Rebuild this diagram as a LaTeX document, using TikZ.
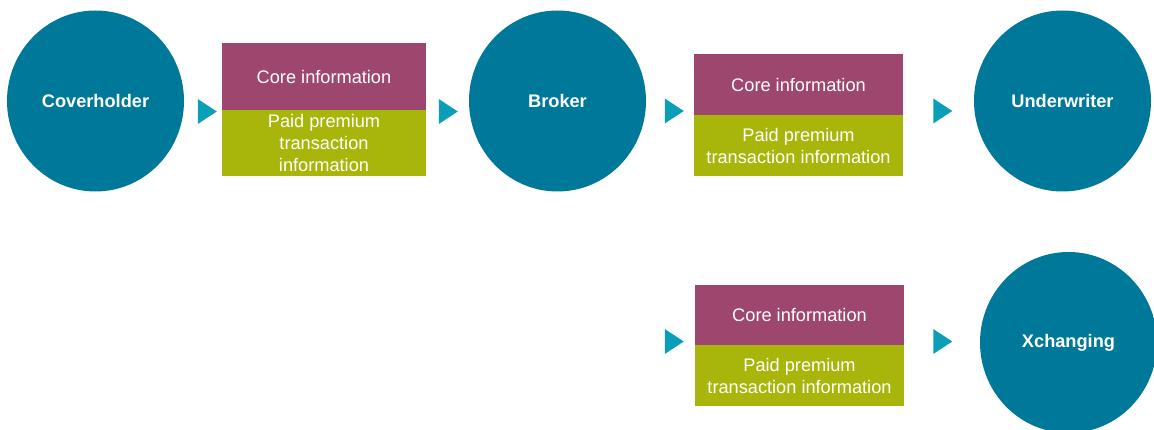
\documentclass[tikz,border=0pt]{standalone}
\usepackage{fontspec}
\setmainfont{Liberation Sans}
\usetikzlibrary{positioning, shapes.geometric}

\definecolor{partyblue}{HTML}{00789A}
\definecolor{corepurple}{HTML}{9E476E}
\definecolor{paidgreen}{HTML}{A8B60B}
\definecolor{flowcyan}{HTML}{0A9EB9}

\newcommand{\flowfont}{\fontsize{18.2pt}{22pt}\selectfont}

\begin{document}
\begin{tikzpicture}[x=1pt, y=-1pt,
    every node/.style={font=\flowfont},
    party/.style={ellipse, fill=partyblue, text=white,
        font=\flowfont\bfseries,
        minimum width=177pt, minimum height=181pt, inner sep=0},
    corebox/.style={fill=corepurple, text=white, inner sep=0, align=center},
    paidbox/.style={fill=paidgreen, text=white, inner sep=0, align=center},
    flow/.style={isosceles triangle, isosceles triangle stretches,
        fill=flowcyan, minimum width=25pt, minimum height=19pt, inner sep=0}
]
    \useasboundingbox (0,0) rectangle (1154,430);

    % parties
    \node [party] (coverholder) at (95.5,101) {Coverholder};
    \node [party] (broker) at (557.5,101) {Broker};
    \node [party] (underwriter) at (1062.5,101) {Underwriter};
    \node [party] (xchanging) at (1068.5,342.5) {Xchanging};

    % information packets
    \node [corebox,
        minimum width=204pt,
        minimum height=67pt
    ] (core1) at (324,76.5) {Core information};
    \node [paidbox,
        minimum width=204pt,
        minimum height=66pt,
        below=0pt of core1
    ] (paid1) {Paid premium\\transaction\\information};

    \node [corebox,
        minimum width=209pt,
        minimum height=61pt
    ] (core2) at (798.5,84.5) {Core information};
    \node [paidbox,
        minimum width=209pt,
        minimum height=61pt,
        below=0pt of core2
    ] (paid2) {Paid premium\\transaction information};

    \node [corebox,
        minimum width=209pt,
        minimum height=60pt
    ] (core3) at (799.5,315) {Core information};
    \node [paidbox,
        minimum width=209pt,
        minimum height=61pt,
        below=0pt of core3
    ] (paid3) {Paid premium\\transaction information};

    % flow markers
    \node [flow] (flow1) at (204.5,111.5) {};
    \node [flow] (flow2) at (445.5,111.5) {};
    \node [flow] (flow3) at (671.5,111) {};
    \node [flow] (flow4) at (940,111) {};
    \node [flow] (flow5) at (671.5,341.5) {};
    \node [flow] (flow6) at (940,341.5) {};
\end{tikzpicture}
\end{document}
